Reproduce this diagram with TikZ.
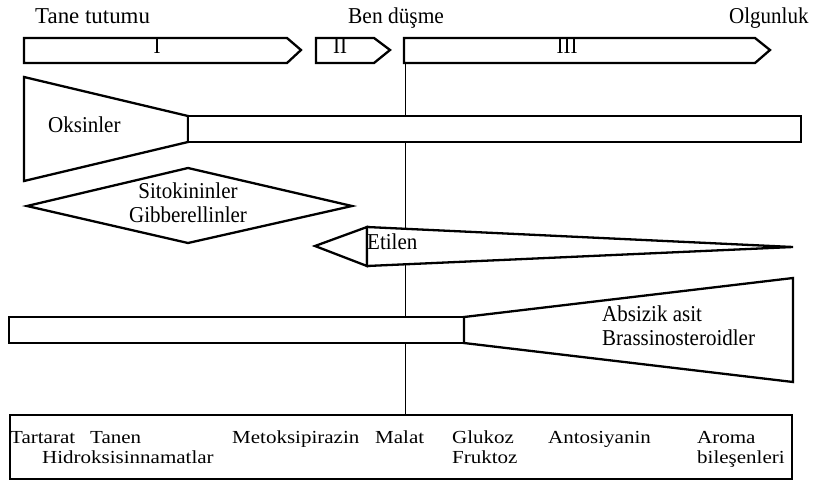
\documentclass[tikz,border=0pt]{standalone}
\usepackage{fontspec}
\usepackage{graphicx}
\setmainfont{Liberation Serif}
\newcommand{\tl}[2][1]{\scalebox{#1}[1.08]{#2}}
\newcommand{\bl}[1]{\scalebox{1.05}[0.92]{#1}}
\begin{document}
\begin{tikzpicture}[x=1pt,y=-1pt,
  shp/.style={draw=black,line width=2.3pt,line join=miter,fill=white},
  lbl/.style={inner sep=0pt,anchor=base west,font=\fontsize{21}{23}\selectfont},
  blbl/.style={inner sep=0pt,anchor=base west,font=\fontsize{20}{21}\selectfont},
  lblc/.style={inner sep=0pt,anchor=base,font=\fontsize{21}{23}\selectfont}]
\useasboundingbox (0,0) rectangle (818,482);
% vertical divider
\coordinate (vtop) at (405,63);
\coordinate (vbot) at (405,415);
% stage arrows
\draw[shp] (24,38) -- (287,38) -- (301,50) -- (287,63) -- (24,63) -- cycle;
\draw[shp] (316,38) -- (374,38) -- (390,50) -- (374,63) -- (316,63) -- cycle;
\draw[shp] (404,38) -- (755,38) -- (770,50) -- (755,63) -- (404,63) -- cycle;
\draw[line width=0.8pt] (vtop) -- (vbot);
\node[lblc] (s1) at (157,53) {\tl{I}};
\node[lblc] (s2) at (340,53) {\tl{II}};
\node[lblc] (s3) at (567,53) {\tl{III}};
\node[lbl] (t1) at (35,23) {\tl[1.09]{Tane tutumu}};
\node[lbl] (t2) at (348,23) {\tl[1.02]{Ben düşme}};
\node[lbl] (t3) at (729,23) {\tl{Olgunluk}};
% Oksinler
\draw[shp] (24,77) -- (188,116) -- (188,142) -- (24,181) -- cycle;
\draw[shp] (188,116) rectangle (801,142);
\node[lbl] (oks) at (48,132) {\tl{Oksinler}};
% Sitokininler diamond
\draw[shp] (27,206) -- (188,168) -- (352,206) -- (188,243) -- cycle;
\node[lblc] (sit) at (188,198) {\tl{Sitokininler}};
\node[lblc] (gib) at (188,222) {\tl{Gibberellinler}};
% Etilen
\draw[shp] (367,227) -- (315,246) -- (367,266) -- cycle;
\draw[shp] (367,227) -- (793,247) -- (367,266) -- cycle;
\node[lbl] (eti) at (367,249) {\tl{Etilen}};
% Absizik asit
\draw[shp] (9,317) rectangle (464,343);
\draw[shp] (464,317) -- (793,278) -- (793,382) -- (464,343) -- cycle;
\node[lbl] (abs) at (602,321) {\tl{Absizik asit}};
\node[lbl] (bra) at (602,345) {\tl{Brassinosteroidler}};
% bottom box
\draw[draw=black,line width=2.8pt] (10,415) rectangle (792,479);
\node[blbl] (b1) at (10,443) {\bl{Tartarat}};
\node[blbl] (b2) at (90,443) {\bl{Tanen}};
\node[blbl] (b3) at (42,463) {\bl{Hidroksisinnamatlar}};
\node[blbl] (b4) at (232,443) {\bl{Metoksipirazin}};
\node[blbl] (b5) at (375,443) {\bl{Malat}};
\node[blbl] (b6) at (452,443) {\bl{Glukoz}};
\node[blbl] (b7) at (452,463) {\bl{Fruktoz}};
\node[blbl] (b8) at (548,443) {\bl{Antosiyanin}};
\node[blbl] (b9) at (697,443) {\bl{Aroma}};
\node[blbl] (b10) at (697,463) {\bl{bileşenleri}};
\end{tikzpicture}
\end{document}
